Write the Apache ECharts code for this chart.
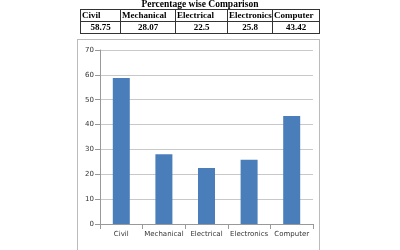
<!DOCTYPE html>
<html><head><meta charset="utf-8">
<script src="https://cdn.jsdelivr.net/npm/echarts@6/dist/echarts.min.js"></script>
<style>
html,body{margin:0;padding:0;background:#fff;width:400px;height:250px;overflow:hidden;}
#title{position:absolute;left:80px;top:-1px;width:240px;text-align:center;font:bold 9.5px "Liberation Serif","DejaVu Serif",serif;color:#000;}
#tbl{position:absolute;left:80px;top:9px;border-collapse:collapse;table-layout:fixed;width:239px;font:bold 9px "Liberation Serif",serif;color:#000;}
#tbl td{border:1px solid #333;padding:0 1px;height:11px;line-height:11px;white-space:nowrap;overflow:hidden;}
#tbl tr.v td{text-align:center;}
#box{position:absolute;left:77px;top:39px;width:243px;height:220px;border:1px solid #bbb;box-sizing:border-box;}
#chart{position:absolute;left:0;top:0;width:400px;height:250px;}
</style></head>
<body>
<div id="box"></div>
<div id="chart"></div>
<div id="title">Percentage wise Comparison</div>
<table id="tbl"><colgroup id="cg"></colgroup><tr id="hr"></tr><tr class="v" id="vr"></tr></table>
<script>
const categories = ["Civil","Mechanical","Electrical","Electronics","Computer"];
const values = [58.75, 28.07, 22.5, 25.8, 43.42];
const tableValues = ["58.75","28.07","22.5","25.8","43.42"];
const colWidths = [40, 55, 52, 45, 47];

const hr = document.getElementById('hr'), vr = document.getElementById('vr'), cg = document.getElementById('cg');
categories.forEach((c,i)=>{
  const col=document.createElement('col'); col.style.width=colWidths[i]+'px'; cg.appendChild(col);
  const h=document.createElement('td'); h.textContent=c; hr.appendChild(h);
  const v=document.createElement('td'); v.textContent=tableValues[i]; vr.appendChild(v);
});

const chart = echarts.init(document.getElementById('chart'), null, {renderer:'canvas'});
chart.setOption({
  animation:false,
  grid:{left:100, right:87, top:50, bottom:26},
  xAxis:{type:'category', data:categories,
    axisLine:{lineStyle:{color:'#999'}}, axisTick:{show:true, lineStyle:{color:'#999'}},
    axisLabel:{color:'#333', fontSize:7, fontFamily:'DejaVu Sans', margin:7, interval:0}},
  yAxis:{type:'value', min:0, max:70, interval:10,
    axisLine:{show:true, lineStyle:{color:'#999'}}, axisTick:{show:true, lineStyle:{color:'#999'}},
    splitLine:{lineStyle:{color:'#c8c8c8'}},
    axisLabel:{color:'#333', fontSize:7, fontFamily:'DejaVu Sans', margin:6}},
  series:[{type:'bar', data:values, barWidth:17, itemStyle:{color:'#4a7ebb'}}]
});
</script>
</body></html>
